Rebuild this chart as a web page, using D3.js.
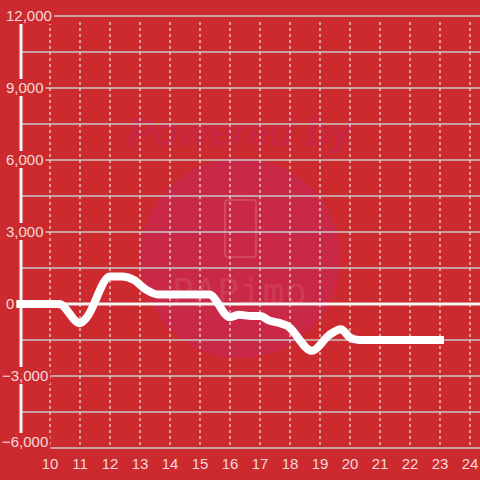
<!DOCTYPE html>
<html>
<head>
<meta charset="utf-8">
<script src="https://cdn.jsdelivr.net/npm/d3@7"></script>
<style>
  body { margin: 0; background: #cc2a2f; }
  svg { display: block; }
</style>
</head>
<body>
<div id="chart"></div>
<script>
// hours of the day and the value at each point
var hours  = [9, 10, 10.3, 11, 11.2, 12, 12.4, 12.8, 13.2, 13.6, 14, 15.3, 16, 16.3, 16.7, 17, 17.33, 17.67, 17.9, 18.73, 19.3, 19.7, 20, 20.3, 23];
var values = [0, 0, 0, -800, -600, 1150, 1150, 1000, 600, 400, 400, 400, -550, -450, -500, -500, -700, -800, -900, -1950, -1300, -1050, -1400, -1500, -1500];
var xTicks = [10, 11, 12, 13, 14, 15, 16, 17, 18, 19, 20, 21, 22, 23, 24];
var yTicks = [-6000, -3000, 0, 3000, 6000, 9000, 12000];
var yGrid = d3.range(-6000, 12001, 1500);

var W = 480, H = 480;
var bg = "#cc2a2f", txt = "#f5d9da";

var svg = d3.select("#chart").append("svg")
  .attr("width", W).attr("height", H);

svg.append("rect").attr("width", W).attr("height", H).attr("fill", bg);

var x = d3.scaleLinear().domain([9, 24]).range([20, 470]);
var y = d3.scaleLinear().domain([-6000, 12000]).range([448, 16]);

// watermark
var wm = svg.append("g");
wm.append("circle").attr("cx", 240).attr("cy", 258).attr("r", 100).attr("fill", "#c92847");
wm.append("text").attr("x", 240).attr("y", 146).attr("text-anchor", "middle")
  .style("font-family", "Liberation Sans, Arial").style("font-size", "40px")
  .style("font-weight", "bold").style("font-style", "italic")
  .attr("fill", "#c92741").text("Powered by");
wm.append("rect").attr("x", 225).attr("y", 200).attr("width", 31).attr("height", 57).attr("rx", 3)
  .attr("fill", "none").attr("stroke", "#d4485e").attr("stroke-width", 2);
wm.append("text").attr("x", 240).attr("y", 304).attr("text-anchor", "middle")
  .style("font-family", "DejaVu Sans Mono, monospace").style("font-size", "36px")
  .style("letter-spacing", "1px")
  .attr("fill", "#d4485e").attr("fill-opacity", 0.6)
  .text("PAPimo");

// horizontal grid
svg.selectAll("hgrid").data(yGrid).enter().append("line")
  .attr("x1", 21).attr("x2", W)
  .attr("y1", function (d) { return y(d); })
  .attr("y2", function (d) { return y(d); })
  .attr("stroke", function (d) { return d === 0 ? "#f4f4f4" : "#c9c9c9"; })
  .attr("stroke-width", function (d) { return d === 0 ? 3 : 1.5; });

// vertical dashed grid
svg.selectAll("vgrid").data(xTicks).enter().append("line")
  .attr("x1", function (d) { return x(d); })
  .attr("x2", function (d) { return x(d); })
  .attr("y1", y(12000) + 6).attr("y2", y(-6000) - 2)
  .attr("stroke", "#e6e6e6").attr("stroke-width", 1.2)
  .attr("stroke-dasharray", "3,3");

// y axis line
svg.append("line").attr("x1", 21).attr("x2", 21)
  .attr("y1", y(12000)).attr("y2", y(-6000))
  .attr("stroke", "#f4f4f4").attr("stroke-width", 3);

// series line
var line = d3.line()
  .x(function (d, i) { return x(hours[i]); })
  .y(function (d) { return y(d); })
  .curve(d3.curveMonotoneX);

svg.append("path").datum(values)
  .attr("d", line)
  .attr("fill", "none").attr("stroke", "#ffffff")
  .attr("stroke-width", 8).attr("stroke-linejoin", "round")
  .attr("stroke-linecap", "square");

// y labels with background
var yl = svg.selectAll("ylab").data(yTicks).enter().append("g");
yl.append("text")
  .attr("x", function (d) { return d < 0 ? 2 : 6; })
  .attr("y", function (d) { return y(d) + (d === -6000 ? -1 : 5); })
  .style("font-family", "Liberation Sans, Arial").style("font-size", "15px")
  .attr("fill", txt)
  .text(function (d) { return d3.format(",")(d); })
  .each(function () {
    var b = this.getBBox();
    d3.select(this.parentNode).insert("rect", "text")
      .attr("x", b.x - 1).attr("y", b.y)
      .attr("width", b.width + 3).attr("height", b.height)
      .attr("fill", bg);
  });

// x labels
svg.selectAll("xlab").data(xTicks).enter().append("text")
  .attr("x", function (d) { return x(d); })
  .attr("y", 469)
  .attr("text-anchor", "middle")
  .style("font-family", "Liberation Sans, Arial").style("font-size", "15px")
  .attr("fill", txt)
  .text(function (d) { return d; });
</script>
</body>
</html>
